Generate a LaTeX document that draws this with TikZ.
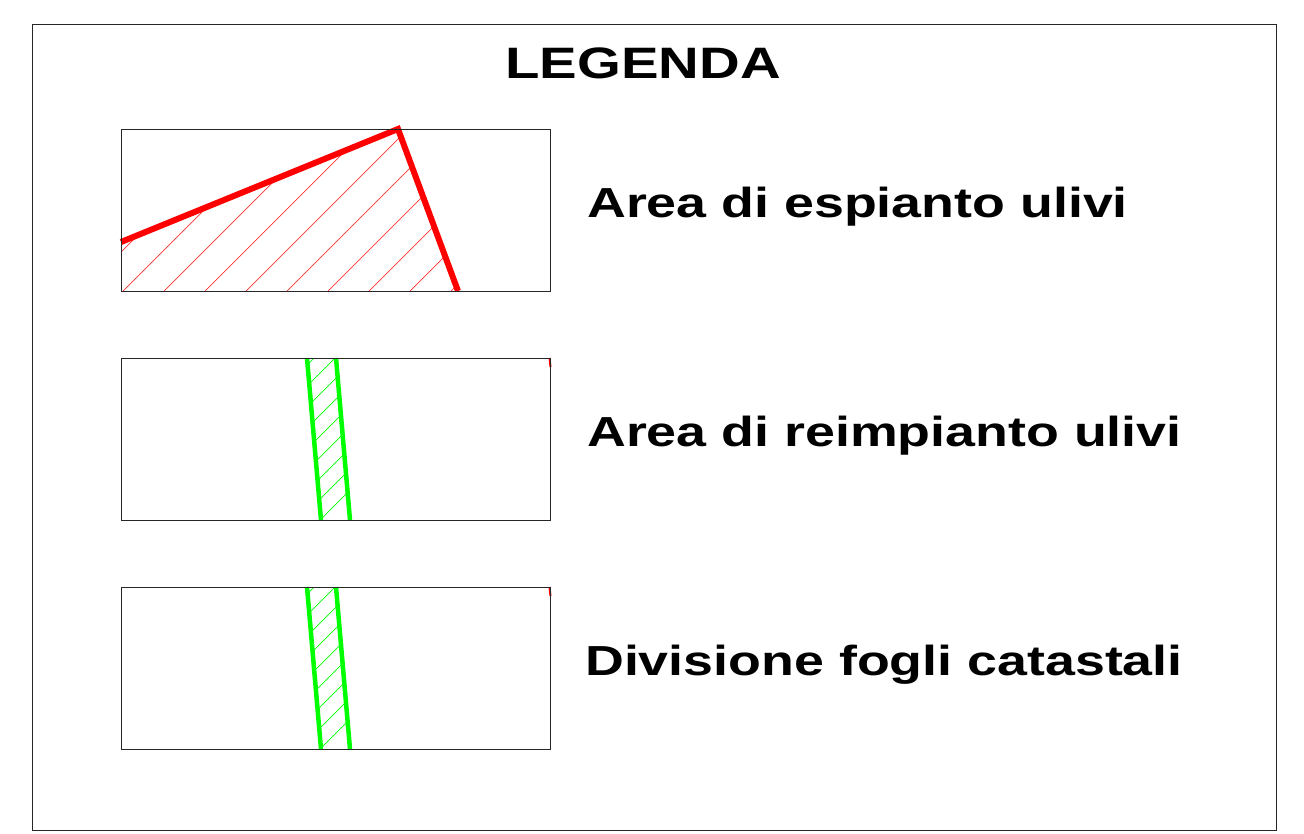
\documentclass[tikz,border=0pt]{standalone}
\usepackage{fontspec}
\setmainfont{Liberation Sans}[FakeStretch=1.28]
\begin{document}
\begin{tikzpicture}[x=1pt,y=-1pt,
  frame/.style={draw=black!85,line width=1pt},
  redline/.style={draw=red,line width=6pt,line join=miter},
  greenline/.style={draw=green,line width=4.5pt},
  redhatch/.style={draw=red!80,line width=0.7pt},
  greenhatch/.style={draw=green,line width=0.7pt},
  label/.style={anchor=base west,inner sep=0pt,font=\fontsize{42}{48}\selectfont\bfseries}]
\useasboundingbox (0,0) rectangle (1304,833);
\draw[frame] (32,24) rectangle (1276,830);
\node[anchor=base,inner sep=0pt,font=\fontsize{44}{48}\selectfont\bfseries] (title) at (643,78) {LEGENDA};
% box 1
\begin{scope}
\clip (121,242) -- (398,129) -- (458,291) -- (121,291) -- cycle;
\foreach \k in {-1,...,10} {
  \draw[redhatch] ({123+41*\k},291) -- ({123+41*\k+250},41);
}
\end{scope}
\draw[redline] (121,242) -- (398,129) -- (458,291);
\draw[frame] (121,129) rectangle (550,291);
\node[label] (t1) at (587,217) {Area di espianto ulivi};
% box 2 and 3
\foreach \dy in {0,229} {
  \begin{scope}[yshift=-\dy pt]
  \begin{scope}
  \clip (307,358) -- (336,358) -- (350,520) -- (321,520) -- cycle;
  \foreach \k in {0,...,12} {
    \draw[greenhatch] (280,{840-21*\k-280}) -- (380,{840-21*\k-380});
  }
  \end{scope}
  \draw[greenline] (307,358) -- (321,520);
  \draw[greenline] (336,358) -- (350,520);
  \draw[draw=red,line width=2pt] (549.5,358) -- (550.5,367);
  \draw[frame] (121,358) rectangle (550,520);
  \end{scope}
}
\node[label] (t2) at (587,446) {Area di reimpianto ulivi};
\node[label] (t3) at (585,675) {Divisione fogli catastali};
\end{tikzpicture}
\end{document}
